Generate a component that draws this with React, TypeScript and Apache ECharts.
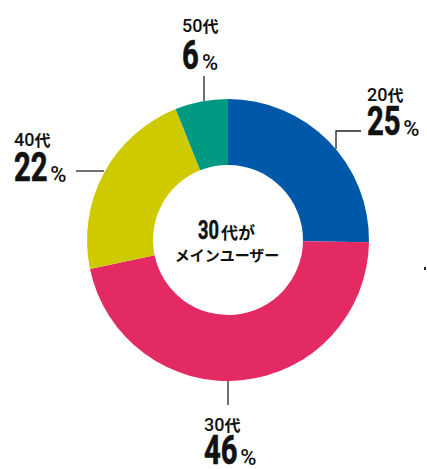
import React, { useEffect, useRef } from "react";
import * as echarts from "echarts";

const categories = ["20代", "30代", "40代", "50代"];
const shares = [25, 46, 22, 6];
const sliceColors = ["#0058a8", "#e42a62", "#cfca00", "#009a82"];
const centerLine1 = ["30", "代が"];
const centerLine2 = "メインユーザー";

const NUM_FONT = "Roboto, sans-serif";
const JP_FONT = "'Noto Sans CJK JP', 'Noto Sans', sans-serif";
const CONDENSE = 0.73;
const DIGIT_ADV = 40 * 0.562 * CONDENSE;

// label placement (layout only): name label left/middle, big number left/middle, leader line points
const labelPos = [
  { x: 367, y: 94, ny: 122, line: [[336, 149], [336, 131], [361, 131]] },
  { x: 204, y: 424, ny: 450.5, line: [[228, 380], [228, 392], [228, 405]] },
  { x: 14, y: 139, ny: 167.5, line: [[104, 171], [90, 171], [76, 171]] },
  { x: 182, y: 25, ny: 55.5, line: [[204, 101], [204, 90], [204, 76]] },
];

export default function App() {
  const ref = useRef<HTMLDivElement>(null);
  useEffect(() => {
    if (!ref.current) return;
    const chart = echarts.init(ref.current, undefined, { renderer: "svg" });

    const numberTexts: any[] = [];
    shares.forEach((v, i) => {
      const p = labelPos[i];
      const s = String(v);
      numberTexts.push({
        type: "text",
        x: p.x,
        y: p.ny,
        scaleX: CONDENSE,
        silent: true,
        style: {
          text: s,
          align: "left",
          verticalAlign: "middle",
          fontFamily: NUM_FONT,
          fontWeight: "bold",
          fontSize: 40,
          fill: "#111",
          stroke: "#111",
          lineWidth: 0.7,
        },
      });
      numberTexts.push({
        type: "text",
        x: p.x + s.length * DIGIT_ADV + 3.5,
        y: p.ny + 6.5,
        silent: true,
        style: {
          text: "%",
          align: "left",
          verticalAlign: "middle",
          fontFamily: NUM_FONT,
          fontWeight: 500,
          fontSize: 22,
          fill: "#111",
        },
      });
    });

    chart.setOption({
      animation: false,
      backgroundColor: "#ffffff",
      series: [
        {
          type: "pie",
          center: [228, 240],
          radius: [75, 141],
          startAngle: 90,
          clockwise: true,
          silent: true,
          data: categories.map((c, i) => ({
            name: c,
            value: shares[i],
            itemStyle: { color: sliceColors[i] },
          })),
          label: {
            show: true,
            overflow: "none",
            formatter: (p: any) =>
              `{d|${p.name.slice(0, -1)}}{k|${p.name.slice(-1)}}`,
            rich: {
              d: {
                fontFamily: NUM_FONT,
                fontWeight: 500,
                fontSize: 18,
                lineHeight: 18,
                color: "#111",
              },
              k: {
                fontFamily: JP_FONT,
                fontWeight: "bold",
                fontSize: 16,
                lineHeight: 18,
                color: "#111",
              },
            },
          },
          labelLine: {
            show: true,
            lineStyle: { color: "#222", width: 1.3 },
          },
          labelLayout: (params: any) => {
            const p = labelPos[params.dataIndex];
            return {
              x: p.x,
              y: p.y,
              align: "left",
              verticalAlign: "middle",
              labelLinePoints: p.line,
            };
          },
        },
      ],
      graphic: [
        ...numberTexts,
        {
          type: "text",
          x: 219,
          y: 230.5,
          scaleX: CONDENSE,
          silent: true,
          style: {
            text: centerLine1[0],
            align: "right",
            verticalAlign: "middle",
            fontFamily: NUM_FONT,
            fontWeight: "bold",
            fontSize: 25,
            fill: "#111",
            stroke: "#111",
            lineWidth: 0.5,
          },
        },
        {
          type: "text",
          x: 221,
          y: 231,
          silent: true,
          style: {
            text: centerLine1[1],
            align: "left",
            verticalAlign: "middle",
            fontFamily: JP_FONT,
            fontWeight: "bold",
            fontSize: 17,
            fill: "#111",
          },
        },
        {
          type: "text",
          x: 227,
          y: 254.5,
          silent: true,
          style: {
            text: centerLine2,
            align: "center",
            verticalAlign: "middle",
            fontFamily: JP_FONT,
            fontWeight: "bold",
            fontSize: 15,
            fill: "#111",
          },
        },
        {
          type: "rect",
          silent: true,
          shape: { x: 424, y: 267, width: 2, height: 3 },
          style: { fill: "#222" },
        },
      ],
    });
    return () => chart.dispose();
  }, []);
  return (
    <div
      ref={ref}
      style={{ position: "fixed", left: 0, top: 0, width: 427, height: 469 }}
    />
  );
}
